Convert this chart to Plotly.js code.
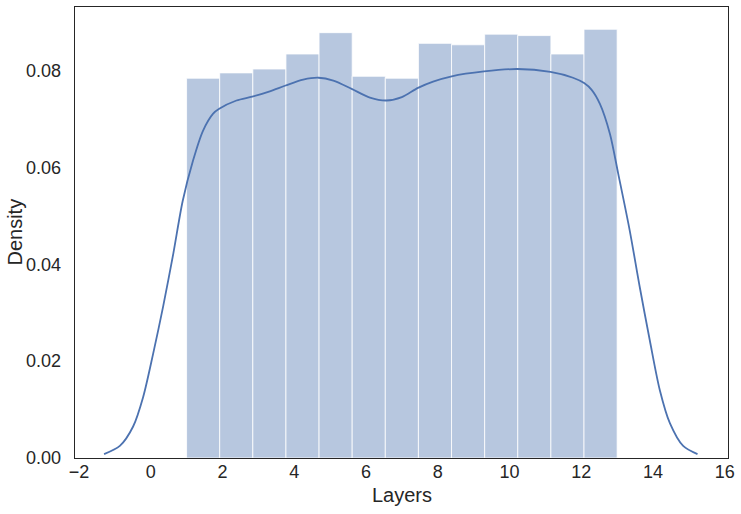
<!DOCTYPE html>
<html>
<head>
<meta charset="utf-8">
<script src="https://cdn.plot.ly/plotly-3.0.1.min.js"></script>
<style>
  html, body { margin: 0; padding: 0; background: #fff; }
</style>
</head>
<body>
<div id="chart" style="width:741px;height:514px;"></div>
<script>
// histogram: 13 bins between 1 and 13
const binStart = 1;
const binEnd = 13;
const binDensity = [0.0784, 0.0795, 0.0803, 0.0834, 0.0878, 0.0788, 0.0784,
                    0.0856, 0.0853, 0.0875, 0.0872, 0.0834, 0.0885];

// kde curve
const kdeX = [-1.30, -0.86, -0.49, -0.21, 0.07, 0.35, 0.63, 0.89, 1.18, 1.46, 1.74, 1.91,
              2.39, 2.83, 3.32, 3.76, 4.25, 4.68, 5.09, 5.60, 6.11, 6.57, 7.00, 7.45,
              7.87, 8.39, 9.29, 10.22, 11.14, 11.77, 12.08, 12.29, 12.52, 12.80, 13.03,
              13.35, 13.63, 13.91, 14.19, 14.47, 14.84, 15.24];
const kdeY = [0.0008, 0.0025, 0.0065, 0.0126, 0.0216, 0.0314, 0.0422, 0.0530, 0.0614, 0.0676, 0.0711, 0.0721,
              0.0738, 0.0746, 0.0757, 0.0769, 0.0781, 0.0785, 0.0779, 0.0762, 0.0744, 0.0738, 0.0745, 0.0764,
              0.0777, 0.0788, 0.0798, 0.0803, 0.0797, 0.0785, 0.0774, 0.0760, 0.0731, 0.0669, 0.0587,
              0.0470, 0.0353, 0.0243, 0.0140, 0.0072, 0.0025, 0.0008];

const xLabel = 'Layers';
const yLabel = 'Density';

const binWidth = (binEnd - binStart) / binDensity.length;
const binCenters = binDensity.map((_, i) => binStart + (i + 0.5) * binWidth);

const textColor = '#262626';
const fontFamily = 'Liberation Sans, Arial, sans-serif';

const bars = {
  type: 'bar',
  x: binCenters,
  y: binDensity,
  width: binWidth,
  marker: {
    color: 'rgb(183,199,223)',
    line: {color: 'rgba(255,255,255,0.8)', width: 1}
  },
  hoverinfo: 'skip'
};

const kde = {
  type: 'scatter',
  mode: 'lines',
  x: kdeX,
  y: kdeY,
  line: {color: '#4c72b0', width: 1.8, shape: 'spline', smoothing: 0.8}
};

const axisCommon = {
  showline: true,
  mirror: true,
  linecolor: textColor,
  linewidth: 1.25,
  showgrid: false,
  zeroline: false,
  ticks: 'outside',
  tickcolor: 'rgba(0,0,0,0)',
  tickfont: {family: fontFamily, size: 18, color: textColor}
};

const layout = {
  width: 741,
  height: 514,
  margin: {l: 75, r: 13, t: 7, b: 56},
  paper_bgcolor: '#ffffff',
  plot_bgcolor: '#ffffff',
  showlegend: false,
  bargap: 0,
  xaxis: Object.assign({}, axisCommon, {
    range: [-2.11, 16.09],
    dtick: 2,
    tick0: 0,
    ticklen: 0,
    ticklabelstandoff: -3
  }),
  yaxis: Object.assign({}, axisCommon, {
    range: [0, 0.0931],
    dtick: 0.02,
    tick0: 0,
    ticklen: 9,
    tickformat: '.2f'
  }),
  // axis titles placed like matplotlib's labels
  annotations: [
    {text: xLabel, xref: 'paper', yref: 'paper', x: 0.5, y: -0.082,
     xanchor: 'center', yanchor: 'middle', showarrow: false,
     font: {family: fontFamily, size: 20, color: textColor}},
    {text: yLabel, xref: 'paper', yref: 'paper', x: -0.0934, y: 0.5,
     xanchor: 'center', yanchor: 'middle', textangle: -90, showarrow: false,
     font: {family: fontFamily, size: 20, color: textColor}}
  ]
};

Plotly.newPlot('chart', [bars, kde], layout, {displayModeBar: false, staticPlot: true});
</script>
</body>
</html>
